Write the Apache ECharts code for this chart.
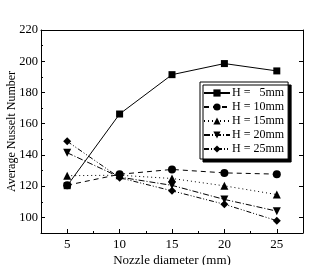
<!DOCTYPE html>
<html>
<head>
<meta charset="utf-8">
<script src="https://cdn.jsdelivr.net/npm/echarts@6/dist/echarts.min.js"></script>
<style>
  html, body { margin: 0; padding: 0; background: #fff; }
  #main { width: 311px; height: 265px; }
</style>
</head>
<body>
<div id="main"></div>
<script>
// nozzle diameters (mm)
const diameters = [5, 10, 15, 20, 25];
// average Nusselt number for each jet-to-plate distance H
const h5 = [120.3, 166.2, 191.4, 198.5, 193.8];
const h10 = [120.6, 127.6, 130.7, 128.5, 127.7];
const h15 = [126.7, 127.0, 124.9, 120.2, 114.6];
const h20 = [141.4, 125.8, 120.5, 111.5, 104.0];
const h25 = [148.7, 125.4, 117.0, 108.4, 97.9];
const seriesNames = ['H =   5mm', 'H = 10mm', 'H = 15mm', 'H = 20mm', 'H = 25mm'];
// tick labels
const xTicks = [5, 10, 15, 20, 25];
const xMinor = [7.5, 12.5, 17.5, 22.5];
const yTicks = [100, 120, 140, 160, 180, 200, 220];
const yMinor = [110, 130, 150, 170, 190, 210];

const font = 'Liberation Serif';
let myChart = echarts.init(document.getElementById('main'));

const pairs = (ys) => diameters.map((d, i) => [d, ys[i]]);

function mkSeries(name, ys, symbol, dash, rotate) {
  return {
    name: name,
    type: 'line',
    data: pairs(ys),
    symbol: symbol,
    symbolSize: symbol === 'rect' ? 7 : 8,
    symbolRotate: rotate || 0,
    showAllSymbol: true,
    color: '#000',
    lineStyle: { color: '#000', width: 1, type: dash },
    itemStyle: { color: '#000' },
    emphasis: { disabled: true },
    animation: false,
  };
}

const xBase = { type: 'value', min: 2.5, max: 27.5, splitLine: { show: false } };
const yBase = { type: 'value', min: 90, max: 220, splitLine: { show: false } };

let option = {
  backgroundColor: '#fff',
  animation: false,
  grid: { left: 41, right: 8, top: 30, bottom: 32, outerBoundsMode: 'none', containLabel: false },
  xAxis: [
    {
      ...xBase,
      position: 'bottom',
      name: 'Nozzle diameter (mm)',
      nameLocation: 'middle',
      nameMoveOverlap: false,
      nameGap: 21,
      nameTextStyle: { fontFamily: font, fontSize: 13, color: '#000' },
      axisLine: { lineStyle: { color: '#000', width: 1 } },
      axisTick: { inside: true, length: 4, customValues: xTicks, lineStyle: { color: '#000' } },
      axisLabel: { customValues: xTicks, fontFamily: font, fontSize: 13, color: '#000', margin: 5 },
    },
    {
      ...xBase,
      position: 'bottom',
      axisLine: { show: false },
      axisTick: { inside: true, length: 2, customValues: xMinor, lineStyle: { color: '#000' } },
      axisLabel: { show: false },
    },
    {
      ...xBase,
      position: 'top',
      axisLine: { lineStyle: { color: '#000', width: 1 } },
      axisTick: { show: false },
      axisLabel: { show: false },
    },
  ],
  yAxis: [
    {
      ...yBase,
      position: 'left',
      name: 'Average Nusselt Number',
      nameLocation: 'middle',
      nameMoveOverlap: false,
      nameGap: 23,
      nameTextStyle: { fontFamily: font, fontSize: 12, color: '#000' },
      axisLine: { lineStyle: { color: '#000', width: 1 } },
      axisTick: { inside: true, length: 4, customValues: yTicks, lineStyle: { color: '#000' } },
      axisLabel: { customValues: yTicks, fontFamily: font, fontSize: 12.5, color: '#000', margin: 3 },
    },
    {
      ...yBase,
      position: 'left',
      axisLine: { show: false },
      axisTick: { inside: true, length: 2, customValues: yMinor, lineStyle: { color: '#000' } },
      axisLabel: { show: false },
    },
    {
      ...yBase,
      position: 'right',
      axisLine: { lineStyle: { color: '#000', width: 1 } },
      axisTick: { inside: true, length: 4, customValues: yTicks, lineStyle: { color: '#000' } },
      axisLabel: { show: false },
    },
  ],
  legend: {
    orient: 'vertical',
    left: 200,
    top: 82,
    itemWidth: 26,
    itemHeight: 9,
    itemGap: 2,
    padding: [5, 4, 4, 3],
    backgroundColor: '#fff',
    borderColor: '#000',
    borderWidth: 1,
    borderRadius: 0,
    shadowColor: '#000',
    shadowOffsetX: 3,
    shadowOffsetY: 3,
    shadowBlur: 0,
    selectedMode: false,
    textStyle: { fontFamily: font, fontSize: 12, lineHeight: 12, color: '#000', padding: [0, 0, 0, -3] },
    data: seriesNames,
  },
  series: [
    mkSeries(seriesNames[0], h5, 'rect', 'solid'),
    mkSeries(seriesNames[1], h10, 'circle', [5, 4]),
    mkSeries(seriesNames[2], h15, 'triangle', [1, 3]),
    mkSeries(seriesNames[3], h20, 'triangle', [6, 2, 1, 2], 180),
    mkSeries(seriesNames[4], h25, 'diamond', [5, 2, 1, 2, 1, 2]),
  ],
};

myChart.setOption(option);
</script>
</body>
</html>
